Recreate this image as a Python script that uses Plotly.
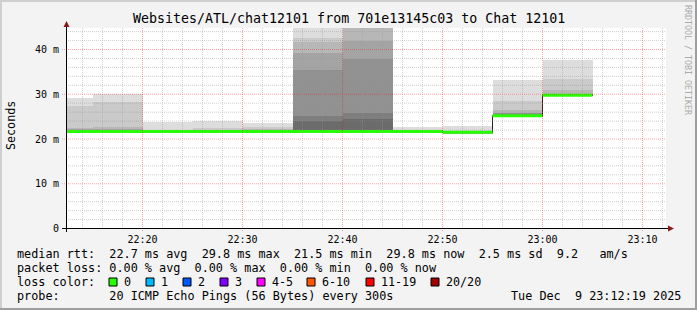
import plotly.graph_objects as go
import pandas as pd

# ---------------- data ----------------
DAY = "2025-12-09"
TITLE = "Websites/ATL/chat12101 from 701e13145c03 to Chat 12101"
WINDOW_START = "22:12:21"
WINDOW_SECONDS = 3600
STEP_SECONDS = 300

step_start = ["22:10", "22:15", "22:20", "22:25", "22:30", "22:35",
              "22:40", "22:45", "22:50", "22:55", "23:00"]
median_ms = [21.7, 21.7, 21.7, 21.7, 21.7, 21.7, 21.7, 21.7, 21.5, 25.2, 29.8]
loss_count = [0, 0, 0, 0, 0, 0, 0, 0, 0, 0, 0]

# 20 sorted ping round-trip times per step (ms)
ping_2210 = [21.40, 21.40, 21.45, 21.50, 21.50, 21.55, 21.60, 21.60, 21.65, 21.70,
             21.70, 21.75, 21.80, 21.85, 21.90, 22.00, 22.20, 22.40, 27.40, 29.10]
ping_2215 = [21.40, 21.40, 21.45, 21.50, 21.50, 21.55, 21.60, 21.60, 21.65, 21.70,
             21.70, 21.75, 21.80, 21.85, 21.90, 22.00, 22.30, 22.60, 28.20, 30.00]
ping_2220 = [21.40, 21.45, 21.50, 21.50, 21.55, 21.60, 21.60, 21.65, 21.65, 21.70,
             21.70, 21.72, 21.75, 21.78, 21.80, 21.85, 21.90, 21.95, 22.10, 23.90]
ping_2225 = [21.40, 21.45, 21.50, 21.50, 21.55, 21.60, 21.60, 21.65, 21.65, 21.70,
             21.70, 21.72, 21.75, 21.78, 21.80, 21.85, 21.90, 22.00, 22.40, 24.00]
ping_2230 = [21.40, 21.45, 21.50, 21.50, 21.55, 21.60, 21.60, 21.65, 21.65, 21.70,
             21.70, 21.72, 21.75, 21.80, 21.85, 21.90, 22.00, 22.20, 22.60, 23.60]
ping_2235 = [21.40, 21.45, 21.50, 21.50, 21.55, 21.60, 21.60, 21.65, 21.65, 21.70,
             21.70, 21.80, 22.00, 24.00, 25.10, 35.40, 39.20, 41.60, 42.50, 47.00]
ping_2240 = [21.40, 21.45, 21.50, 21.50, 21.55, 21.60, 21.60, 21.65, 21.65, 21.70,
             21.70, 21.80, 22.00, 24.40, 25.80, 37.90, 42.00, 46.00, 49.00, 52.00]
ping_2245 = [21.40, 21.45, 21.50, 21.50, 21.55, 21.60, 21.60, 21.65, 21.65, 21.70,
             21.70, 21.72, 21.75, 21.78, 21.80, 21.82, 21.85, 21.90, 22.00, 22.70]
ping_2250 = [21.20, 21.25, 21.30, 21.30, 21.35, 21.40, 21.40, 21.45, 21.45, 21.50,
             21.50, 21.52, 21.55, 21.58, 21.60, 21.62, 21.65, 21.70, 21.80, 22.90]
ping_2255 = [24.95, 25.00, 25.00, 25.05, 25.05, 25.10, 25.10, 25.15, 25.15, 25.20,
             25.20, 25.25, 25.30, 25.35, 25.60, 25.70, 25.90, 26.40, 28.40, 33.20]
ping_2300 = [29.55, 29.60, 29.60, 29.65, 29.65, 29.70, 29.70, 29.75, 29.75, 29.80,
             29.80, 29.82, 29.85, 29.88, 29.90, 29.95, 30.00, 30.90, 33.40, 37.70]

ping_rows = [ping_2210, ping_2215, ping_2220, ping_2225, ping_2230, ping_2235,
             ping_2240, ping_2245, ping_2250, ping_2255, ping_2300]

# axis ticks
x_major_ticks = ["22:20", "22:30", "22:40", "22:50", "23:00", "23:10"]
y_major_ticks = [0, 10, 20, 30, 40]
y_major_labels = ["0", "10 m", "20 m", "30 m", "40 m"]
y_minor_ticks = [v for v in range(2, 45, 2) if v % 10 != 0]
x_minor_minutes = [m for m in range(14, 74, 2) if m % 10 != 0]  # minutes after 22:00

# legend texts
legend_row1 = "median rtt:  22.7 ms avg  29.8 ms max  21.5 ms min  29.8 ms now  2.5 ms sd  9.2   am/s"
legend_row2 = "packet loss: 0.00 % avg  0.00 % max  0.00 % min  0.00 % now"
legend_row3 = "loss color:"
legend_row4 = "probe:       20 ICMP Echo Pings (56 Bytes) every 300s"
legend_date = "Tue Dec  9 23:12:19 2025"
loss_labels = ["0", "1", "2", "3", "4-5", "6-10", "11-19", "20/20"]
loss_colors = ["#26ff00", "#00b8ff", "#0059ff", "#7e00ff", "#ff00ff", "#ff5500", "#ff0000", "#a10000"]
loss_upper = [0, 1, 2, 3, 5, 10, 19, 20]

# ---------------- geometry ----------------
W, H = 697, 310
L, R, T, B = 66, 31, 28, 81
PW, PH = W - L - R, H - T - B
MONO = "DejaVu Sans Mono"


def px(x):
    return (x - L) / PW


def py(y):
    return (H - B - y) / PH


def ts(hm):
    return pd.Timestamp(f"{DAY} {hm}")


step = pd.Timedelta(seconds=STEP_SECONDS)
t_start = [ts(s) for s in step_start]
centers = [t + step / 2 for t in t_start]
x0 = ts(WINDOW_START)
x1 = x0 + pd.Timedelta(seconds=WINDOW_SECONDS)

# y range so that 0 -> row 228.5 and 40 -> row 49.5
ppm = (228.5 - 49.5) / 40.0
y_lo = -((H - B) - 228.5) / ppm
y_hi = y_lo + PH / ppm

fig = go.Figure()

# smoke bands (smokeping style): band i spans ping[i] .. ping[21-i]
half = 10
for ib in range(1, half + 1):
    lo = [row[ib - 1] for row in ping_rows]
    hi = [row[20 - ib] for row in ping_rows]
    c = int(190 / half * (half - ib)) + 50
    fig.add_trace(go.Bar(
        x=centers, y=[h - l for h, l in zip(hi, lo)], base=lo,
        width=STEP_SECONDS * 1000, marker=dict(color=f"rgb({c},{c},{c})", line=dict(width=0)),
        hoverinfo="skip"))

# median thin dark line (shows at transitions)
fig.add_trace(go.Scatter(
    x=t_start + [t_start[-1] + step], y=median_ms + [median_ms[-1]],
    mode="lines", line=dict(color="#202020", width=1, shape="hv"), hoverinfo="skip"))

# median coloured band by loss (drawn over the dark line)
hw = 1.5 / ppm


def loss_color(n):
    for up, col in zip(loss_upper, loss_colors):
        if n <= up:
            return col
    return loss_colors[-1]


for col in loss_colors:
    xs, ys = [], []
    for t, m, n in zip(t_start, median_ms, loss_count):
        if loss_color(n) != col:
            continue
        xs += [t, t + step, t + step, t, t, None]
        ys += [m - hw, m - hw, m + hw, m + hw, m - hw, None]
    if xs:
        fig.add_trace(go.Scatter(x=xs, y=ys, mode="lines", fill="toself", fillcolor=col,
                                 line=dict(width=0, color=col), hoverinfo="skip"))

shapes = []
minor_col = "rgba(150,150,150,0.45)"
major_col = "rgba(255,0,0,0.35)"
DASH = "1px,1px"
for v in y_minor_ticks:
    shapes.append(dict(type="line", xref="paper", yref="y", x0=0, x1=1, y0=v, y1=v,
                       line=dict(color=minor_col, width=1, dash=DASH), layer="above"))
for v in y_major_ticks[1:]:
    shapes.append(dict(type="line", xref="paper", yref="y", x0=px(62), x1=1, y0=v, y1=v,
                       line=dict(color=major_col, width=1, dash=DASH), layer="above"))
for m in x_minor_minutes:
    t = ts("22:00") + pd.Timedelta(minutes=m)
    shapes.append(dict(type="line", xref="x", yref="paper", x0=t, x1=t, y0=0, y1=1,
                       line=dict(color=minor_col, width=1, dash=DASH), layer="above"))
for hm in x_major_ticks:
    t = ts(hm)
    shapes.append(dict(type="line", xref="x", yref="paper", x0=t, x1=t, y0=py(231), y1=1,
                       line=dict(color=major_col, width=1, dash=DASH), layer="above"))

# axes lines + arrows
AX = "#000000"
ARROW = "#8b1a1a"
shapes.append(dict(type="line", xref="paper", yref="paper", x0=px(62), x1=px(670),
                   y0=py(228.5), y1=py(228.5), line=dict(color=AX, width=1), layer="above"))
shapes.append(dict(type="line", xref="paper", yref="paper", x0=px(66.5), x1=px(66.5),
                   y0=py(232), y1=py(25), line=dict(color=AX, width=1), layer="above"))
shapes.append(dict(type="path", xref="paper", yref="paper",
                   path=f"M {px(63.5)} {py(27)} L {px(69.5)} {py(27)} L {px(66.5)} {py(21)} Z",
                   fillcolor=ARROW, line=dict(width=0), layer="above"))
shapes.append(dict(type="path", xref="paper", yref="paper",
                   path=f"M {px(668)} {py(225.5)} L {px(668)} {py(231.5)} L {px(674)} {py(228.5)} Z",
                   fillcolor=ARROW, line=dict(width=0), layer="above"))

# image frame (3D shade)
shapes.append(dict(type="rect", xref="paper", yref="paper", x0=px(0), x1=px(W), y0=py(0), y1=py(2),
                   fillcolor="#cfcfcf", line=dict(width=0), layer="above"))
shapes.append(dict(type="rect", xref="paper", yref="paper", x0=px(0), x1=px(2), y0=py(0), y1=py(H),
                   fillcolor="#cfcfcf", line=dict(width=0), layer="above"))
shapes.append(dict(type="rect", xref="paper", yref="paper", x0=px(0), x1=px(W), y0=py(H - 2), y1=py(H),
                   fillcolor="#9e9e9e", line=dict(width=0), layer="above"))
shapes.append(dict(type="rect", xref="paper", yref="paper", x0=px(W - 2), x1=px(W), y0=py(0), y1=py(H),
                   fillcolor="#9e9e9e", line=dict(width=0), layer="above"))

# loss colour boxes
box_x = [109, 146, 183, 220, 257, 307, 366, 431]
annotations = []
for bx, col, lab in zip(box_x, loss_colors, loss_labels):
    shapes.append(dict(type="rect", xref="paper", yref="paper", x0=px(bx), x1=px(bx + 8),
                       y0=py(286), y1=py(278), fillcolor=col, line=dict(color="#000000", width=1),
                       layer="above"))
    annotations.append(dict(text=lab, x=px(bx + 14), y=py(282), xref="paper", yref="paper",
                            xanchor="left", yanchor="middle", showarrow=False, borderpad=0,
                            font=dict(family=MONO, size=11.7, color="#000000")))


def nb(s):
    return s.replace(" ", "\u00a0")


def text_at(s, x, y, size=11.7, anchor="left", color="#000000", angle=0, yanchor="middle"):
    annotations.append(dict(text=nb(s), x=px(x), y=py(y), xref="paper", yref="paper",
                            xanchor=anchor, yanchor=yanchor, showarrow=False, borderpad=0,
                            textangle=angle,
                            font=dict(family=MONO, size=size, color=color)))


text_at(TITLE, 348.5, 18.5, size=13.3, anchor="center")
text_at(legend_row1, 16, 254.3, size=11.8)
text_at(legend_row2, 16, 268.3, size=11.8)
text_at(legend_row3, 16, 282, size=11.8)
text_at(legend_row4, 16, 296, size=11.8)
text_at(legend_date, 682, 296, anchor="right", size=11.8)
text_at("Seconds", 11, 126, size=11.7, anchor="center", angle=-90)
text_at("RRDTOOL / TOBI OETIKER", 688, 60, size=8.3, anchor="center", color="#ababab", angle=90)

fig.update_layout(
    width=W, height=H, margin=dict(l=L, r=R, t=T, b=B, pad=0),
    paper_bgcolor="#f3f3f3", plot_bgcolor="#ffffff",
    barmode="overlay", bargap=0, showlegend=False,
    shapes=shapes, annotations=annotations,
    xaxis=dict(type="date", range=[x0, x1], showgrid=False, zeroline=False, showline=False,
               tickvals=[ts(h) for h in x_major_ticks], ticktext=x_major_ticks,
               ticks="", ticklabelstandoff=3,
               tickfont=dict(family=MONO, size=10, color="#000000")),
    yaxis=dict(range=[y_lo, y_hi], showgrid=False, zeroline=False, showline=False,
               tickvals=y_major_ticks, ticktext=y_major_labels,
               ticks="", ticklabelstandoff=6,
               tickfont=dict(family=MONO, size=10, color="#000000")),
)

fig.write_html("out.html")
